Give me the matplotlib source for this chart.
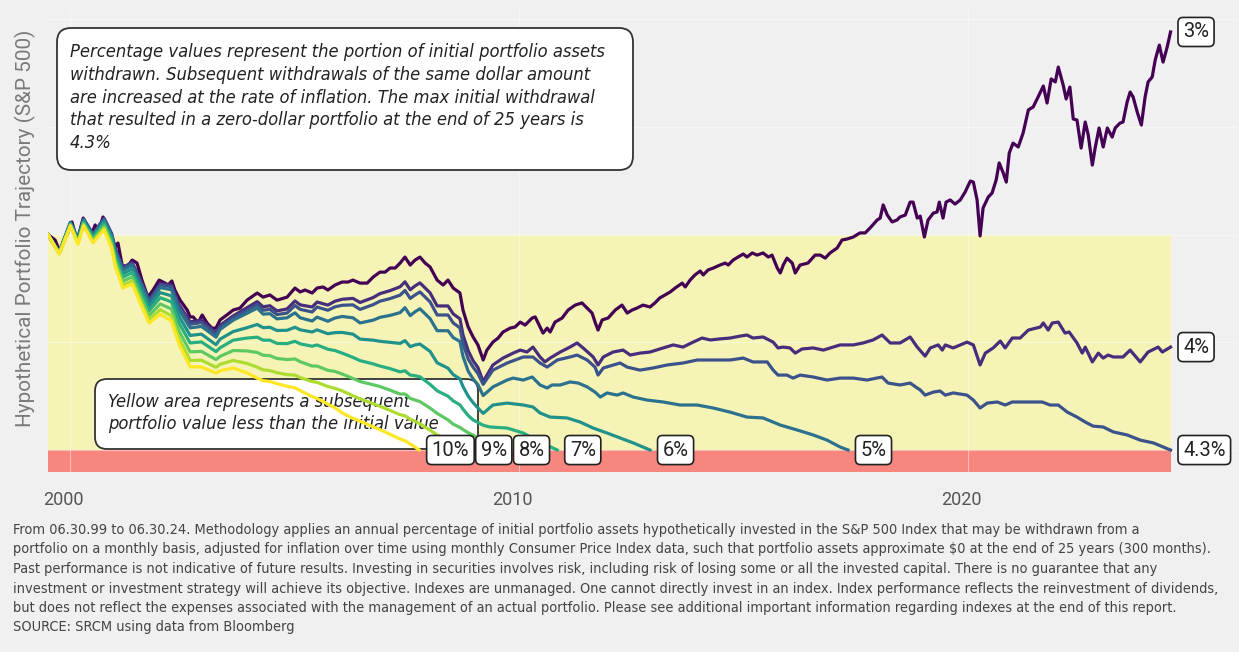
import numpy as np
import matplotlib
matplotlib.use("Agg")
import matplotlib.pyplot as plt
from matplotlib import font_manager
from matplotlib.patches import FancyBboxPatch
from matplotlib.transforms import IdentityTransform, ScaledTranslation

# ---- data (months since 06.1999, portfolio value as % of initial) ----
labels = ["3%", "4%", "4.3%", "5%", "6%", "7%", "8%", "9%", "10%"]

early_months = [0, 3, 6, 8, 9.5, 12, 15, 17, 18, 20, 22.5, 25, 27, 30, 33, 35, 38, 41]
mid_months = [44.9, 46.0, 49.5, 53.2, 55.9, 57.5, 59.3, 61.2, 63.9, 66.0, 67.4, 70.6, 71.9, 74.8, 76.7, 78.6, 81.5, 83.4,
              86.9, 88.7, 91.4, 94.1, 95.4, 96.8, 98.1, 99.4, 102.1, 104.0, 106.9, 108.3, 110.1, 110.9, 112.3, 113.6, 114.9, 116.3]

m3 = [0, 1.9, 3.2, 4.0, 5.3, 6.4, 7.2, 8.0, 9.4, 10.7, 11.8, 12.6, 13.4, 14.7, 15.8, 16.6, 17.9, 18.7, 19.8, 21.1,
      22.5, 23.8, 25.1, 26.7, 28.1, 29.7, 31.3, 32.1, 33.1, 33.9, 35.3, 37.2, 38.0, 38.8, 40.1, 41.2, 42.5, 43.8, 44.9, 46.0,
      47.8, 49.5, 51.3, 53.2, 55.9, 57.5, 59.3, 61.2, 63.9, 66.0, 67.4, 68.7, 70.6, 71.9, 73.5, 74.8, 76.7, 78.6, 80.2, 81.5,
      83.4, 85.3, 86.9, 88.7, 90.1, 91.4, 92.8, 94.1, 95.4, 96.8, 98.1, 99.4, 100.8, 102.1, 104.0, 105.6, 106.9, 108.3, 110.1, 110.9,
      112.3, 113.6, 114.9, 116.3, 117.3, 118.9, 120.3, 121.6, 123.5, 124.8, 126.2, 127.5, 129.4, 130.2, 131.5, 132.3, 133.4, 134.2, 135.5, 137.4,
      139.0, 140.9, 142.7, 144.1, 145.4, 146.2, 147.0, 148.1, 149.7, 151.6, 153.4, 154.8, 156.1, 157.4, 159.0, 160.9, 162.2, 163.5, 164.9, 166.3,
      167.6, 169.5, 170.3, 171.6, 172.9, 174.3, 175.1, 176.4, 177.8, 179.6, 181.0, 181.8, 183.1, 184.4, 185.8, 186.8, 188.2, 189.5, 191.1, 192.5,
      193.5, 194.9, 195.7, 196.5, 197.5, 198.9, 199.7, 201.0, 203.1, 205.0, 206.4, 207.7, 209.0, 210.9, 212.2, 213.6, 215.2, 217.0, 218.4, 219.7,
      221.6, 222.4, 223.2, 224.3, 225.6, 226.9, 227.7, 229.1, 230.4, 231.2, 232.3, 233.1, 234.2, 235.2, 236.6, 237.6, 238.2, 239.2, 240.0, 241.1,
      242.4, 243.8, 245.1, 246.5, 247.3, 248.3, 249.1, 249.9, 251.3, 252.3, 253.4, 254.2, 255.3, 256.1, 256.9, 257.9, 259.3, 260.6, 262.0, 263.3,
      264.6, 266.0, 267.0, 268.1, 269.2, 270.0, 271.3, 272.1, 273.1, 274.0, 275.0, 276.1, 277.2, 278.0, 279.1, 279.9, 280.9, 282.0, 283.1, 284.4,
      285.2, 286.5, 287.3, 288.4, 289.2, 290.0, 291.1, 292.2, 293.2, 294.0, 295.1, 295.9, 297.0, 298.0, 299.1, 300]
v3 = [100, 97.5, 91.9, 96.1, 100.8, 105.9, 100.8, 98.4, 107.7, 103.5, 100.8, 104.5, 100.8, 108.2, 103.1, 101.2, 94.3, 96.1, 85.9, 84.9,
      88.2, 86.8, 78.9, 71.0, 74.3, 78.9, 77.5, 76.6, 78.5, 74.3, 69.6, 65.0, 61.8, 61.8, 59.0, 62.7, 59.0, 56.6, 56.6, 60.4,
      62.7, 65.0, 65.9, 69.6, 72.9, 71.0, 72.0, 69.6, 71.0, 75.2, 73.4, 74.3, 72.9, 75.2, 75.7, 74.3, 76.6, 78.0, 78.0, 78.9,
      77.5, 77.5, 80.3, 82.6, 82.6, 84.5, 84.5, 86.8, 89.6, 85.9, 88.2, 89.6, 86.8, 85.0, 78.9, 76.6, 78.9, 75.2, 72.9, 65.0,
      57.1, 52.5, 48.8, 41.8, 46.4, 50.1, 52.0, 54.8, 56.6, 57.1, 59.4, 58.0, 61.3, 61.8, 57.1, 54.3, 56.6, 54.8, 59.4, 61.3,
      65.0, 67.3, 68.3, 65.9, 63.6, 59.4, 55.7, 60.4, 61.3, 65.0, 67.3, 63.6, 65.0, 65.9, 67.3, 66.4, 68.3, 70.6, 72.0, 73.4,
      75.2, 77.5, 75.7, 78.9, 81.3, 83.1, 81.3, 83.6, 84.5, 85.9, 86.8, 85.9, 88.2, 89.6, 91.0, 89.6, 91.5, 90.5, 91.5, 89.6,
      90.5, 84.5, 82.2, 85.9, 89.1, 86.8, 82.2, 85.9, 86.8, 90.5, 90.5, 89.1, 91.5, 93.8, 97.5, 98.0, 98.9, 100.8, 100.8, 103.1,
      106.8, 107.7, 113.8, 109.1, 105.9, 106.8, 108.2, 109.1, 115.1, 115.1, 107.7, 108.6, 98.9, 106.8, 110.0, 110.5, 115.1, 107.7, 115.1, 116.1,
      114.2, 116.1, 119.8, 124.9, 124.4, 116.1, 99.4, 112.4, 117.5, 119.3, 125.4, 133.3, 128.6, 124.4, 137.9, 142.5, 140.7, 147.2, 157.9, 159.3,
      163.9, 169.0, 161.1, 172.3, 170.9, 177.8, 169.5, 163.0, 168.5, 153.7, 153.2, 140.2, 152.3, 146.3, 132.3, 140.7, 149.5, 140.7, 149.5, 145.3,
      149.5, 151.8, 152.3, 161.6, 166.2, 163.9, 156.9, 150.9, 163.9, 170.9, 173.2, 181.1, 188.0, 180.1, 187.1, 194.1]

m4 = early_months + mid_months + [
    118.9, 121.6, 124.3, 126.2, 128, 129.6, 131.5, 132.8, 134.2, 136.9, 139.5, 141.4, 143, 145.7, 147, 148.4, 151, 153.7, 155.6,
    158.2, 160.9, 164.4, 167.1, 169.7, 172.4, 174.8, 177, 179.6, 182.3, 185, 186.8, 188.4, 191.1, 193.8, 195.1, 196.5, 198.3, 199.7,
    201.5, 204.5, 207.2, 209.8, 211.7, 215.2, 217.8, 220.5, 222.9, 225.1, 227.7, 230.4, 232.3, 234.4, 235.8, 237.9, 239, 239.8, 241.9,
    245.6, 247.3, 249.1, 250.5, 252.6, 254.5, 255.8, 257.7, 259.8, 262, 265.2, 266, 267.3, 268.4, 270, 271.8, 272.9, 275, 276.4, 277.2,
    279.1, 280.7, 282, 283.3, 284.7, 287.3, 289.2, 291.9, 294, 296.7, 297.8, 300]
v4 = [100, 91.8, 105.7, 98.1, 107.3, 100.3, 107.6, 100.5, 93.4, 84.8, 87.1, 77.7, 69.8, 77.3, 76.6, 67.6, 59.5, 60.3] + \
     [54.5, 57.9, 62.3, 66.1, 68.9, 66.5, 67.0, 64.6, 65.5, 69.2, 67.4, 66.4, 68.7, 67.3, 69.1, 70.0, 70.4, 68.5,
      70.8, 72.6, 74.0, 75.8, 78.1, 74.4, 76.2, 77.6, 73.0, 66.9, 66.9, 63.2, 60.9, 53.5, 46.1, 41.5, 38.3, 31.8] + \
     [39.5, 42.7, 45.0, 46.4, 45.5, 47.8, 43.2, 40.9, 42.7, 45.5, 47.8, 49.7, 47.4, 43.2, 39.5, 43.2, 45.5, 46.4, 44.1,
      45.0, 45.5, 47.4, 48.8, 47.8, 50.1, 52.0, 51.1, 51.6, 52.0, 52.9, 53.4, 52.0, 52.5, 50.1, 47.4, 47.8, 47.4, 45.0,
      46.9, 47.4, 46.4, 47.8, 48.8, 48.8, 49.7, 51.1, 53.4, 49.7, 49.7, 52.5, 47.8, 43.6, 47.4, 48.8, 46.4, 48.8, 47.4,
      50.1, 48.8, 39.5, 45.0, 47.4, 50.6, 47.4, 52.0, 52.0, 55.7, 57.1, 59.0, 55.7, 59.0, 59.4, 54.3, 54.8, 49.7, 45.0, 47.8,
      40.9, 45.0, 42.7, 44.1, 43.2, 43.2, 46.4, 40.9, 45.5, 47.8, 45.5, 47.8]

m43 = early_months + mid_months + [
    118.9, 122.7, 127, 129.6, 131.5, 133.4, 136.1, 139.5, 141.4, 144.1, 146.2, 147, 148.4, 152.9, 154.8, 158.2, 161.7, 165.5,
    169.7, 173.5, 177.8, 182.3, 185.8, 188.4, 192.2, 193.8, 195.1, 197.5, 199.1, 201, 204.5, 208.2, 211.7, 215.2, 218.9, 222.9,
    224.5, 227.7, 230.4, 232.3, 233.1, 234.4, 236.6, 238.4, 239.8, 241.9, 245.6, 247.3, 249.1, 251, 253.7, 255.8, 257.7, 261.7,
    265.7, 267.8, 270, 272.4, 275, 277.2, 279.3, 282, 284.7, 288.4, 291.9, 295.4, 300]
v43 = [100, 91.8, 105.6, 98.0, 107.2, 100.1, 107.3, 100.1, 92.9, 84.3, 86.6, 77.1, 69.2, 76.6, 75.8, 66.6, 58.4, 59.2] + \
      [53.8, 57.0, 61.4, 64.9, 67.5, 64.9, 65.3, 62.9, 63.6, 67.1, 65.3, 64.1, 66.4, 64.9, 66.5, 67.2, 67.4, 65.3,
       67.5, 69.1, 70.3, 71.9, 74.1, 70.4, 72.0, 73.4, 68.8, 62.7, 62.7, 59.0, 56.7, 49.5, 42.2, 38.5, 35.5, 30.5] + \
      [37.1, 40.4, 43.2, 43.2, 40.4, 38.5, 41.8, 43.2, 44.1, 41.8, 38.5, 34.8, 38.1, 40.4, 38.5, 37.1, 38.1, 39.5,
       40.4, 41.8, 41.8, 41.8, 42.7, 40.9, 40.9, 37.1, 34.8, 34.8, 33.4, 34.8, 33.9, 32.5, 33.4, 33.4, 32.5, 33.9,
       31.1, 30.2, 31.1, 28.8, 27.9, 25.5, 26.9, 27.4, 25.5, 26.5, 25.5, 23.2, 19.5, 21.8, 22.3, 20.9, 22.3, 22.3,
       22.3, 20.9, 20.9, 17.6, 15.3, 13.0, 11.1, 10.7, 8.4, 7.0, 4.6, 3.3, 0]

m5 = early_months + mid_months + [
    118.9, 122.7, 124.3, 127, 129.4, 131.5, 133.4, 134.7, 136.9, 139.5, 141.7, 144.1, 146.2, 147.6, 149.4, 152.1, 153.7, 156.4,
    160.1, 164.4, 168.9, 173.5, 177.8, 182.3, 186.8, 191.1, 195.7, 200.2, 204.5, 208.2, 211.7, 213.8]
v5 = [100, 91.7, 105.5, 97.8, 106.9, 99.8, 106.9, 99.6, 92.3, 83.5, 85.8, 76.2, 68.3, 75.4, 74.4, 65.1, 56.7, 57.4] + \
     [52.4, 56.0, 60.3, 63.5, 65.9, 63.1, 63.3, 60.9, 61.4, 63.7, 61.4, 59.9, 61.7, 59.8, 61.3, 62.0, 61.4, 59.0,
      60.3, 61.6, 62.5, 63.8, 66.1, 62.4, 64.2, 65.6, 61.0, 55.4, 55.4, 52.2, 50.4, 43.5, 36.6, 33.0, 30.3, 25.3] + \
     [29.3, 32.5, 33.4, 32.5, 33.9, 30.2, 28.8, 30.2, 30.2, 31.6, 31.1, 29.3, 26.9, 24.6, 26.5, 25.5, 26.5, 24.6,
      23.2, 22.3, 20.9, 20.9, 19.5, 17.6, 15.3, 14.9, 11.6, 9.3, 7.0, 4.6, 1.4, 0]

m6 = early_months + mid_months + [118.9, 122.7, 127, 129.6, 131.5, 134.2, 138.7, 142.2, 145.7, 149.4, 152.9, 156.4, 160.9]
v6 = [100, 91.6, 105.2, 97.4, 106.3, 99.1, 106.0, 98.5, 90.9, 81.9, 84.1, 74.4, 66.5, 73.1, 71.6, 62.1, 53.2, 53.8] + \
     [48.9, 51.5, 55.0, 56.8, 58.3, 56.8, 57.0, 55.5, 55.6, 57.0, 55.8, 54.8, 55.8, 54.0, 54.5, 54.6, 53.8, 51.5,
      51.0, 50.5, 50.0, 49.5, 50.8, 48.0, 48.8, 49.2, 45.8, 40.5, 38.0, 35.0, 33.0, 29.5, 25.0, 22.0, 19.5, 17.0] + \
     [20.9, 21.8, 20.9, 20.0, 17.2, 15.3, 14.9, 13.0, 10.2, 7.9, 5.6, 3.3, 0]

m7 = early_months + mid_months + [118.1, 122.7, 127, 131.5, 136.1]
v7 = [100, 91.4, 104.9, 96.9, 105.8, 98.4, 105.1, 97.4, 89.5, 80.3, 82.4, 72.6, 64.7, 70.7, 68.8, 59.0, 49.7, 50.2] + \
     [45.7, 47.5, 51.0, 52.0, 52.4, 51.0, 51.0, 49.5, 49.4, 50.5, 49.3, 48.2, 48.8, 46.8, 46.2, 45.0, 43.0, 41.5,
      40.0, 39.0, 37.8, 36.3, 36.8, 34.8, 34.5, 34.0, 30.5, 27.5, 25.0, 22.8, 21.0, 19.0, 16.0, 14.0, 12.8, 11.5] + \
     [10.7, 10.2, 7.9, 3.7, 0]

m8 = early_months + mid_months[:33] + [114.7, 118, 122.4]
v8 = [100, 91.3, 104.6, 96.4, 105.1, 97.6, 104.0, 96.0, 87.8, 78.4, 80.4, 70.4, 62.5, 67.8, 65.5, 55.3, 45.6, 45.8] + \
     [42.0, 43.5, 46.2, 46.0, 45.3, 44.0, 43.8, 42.5, 42.0, 42.3, 41.0, 39.0, 39.0, 37.0, 36.5, 35.3, 33.2, 31.8,
      30.3, 29.5, 27.8, 26.0, 26.0, 24.0, 23.2, 22.5, 19.5, 17.0, 14.0, 12.0, 10.5, 9.5, 8.0] + \
     [6.0, 3.5, 0]

m9 = early_months + mid_months[:31] + [112.3]
v9 = [100, 91.1, 104.2, 96.0, 104.5, 96.8, 103.0, 94.8, 86.2, 76.6, 78.5, 68.4, 60.5, 65.2, 62.3, 51.9, 41.6, 41.7] + \
     [38.4, 39.8, 41.6, 40.2, 38.5, 37.2, 36.9, 35.9, 35.0, 34.8, 33.6, 31.8, 31.4, 29.5, 28.6, 27.5, 25.2, 23.8,
      21.5, 20.3, 18.4, 16.4, 15.9, 14.3, 13.3, 12.2, 9.2, 7.0, 4.5, 3.2, 1.6] + \
     [0]

m10 = early_months + mid_months[:25] + [99.2]
v10 = [100, 91.0, 104.0, 95.6, 104.0, 96.2, 102.2, 93.8, 85.0, 75.2, 77.1, 66.8, 58.9, 63.1, 59.9, 49.2, 38.6, 38.6] + \
      [35.7, 36.8, 38.1, 35.8, 33.4, 32.2, 31.8, 30.8, 29.6, 28.9, 27.6, 24.8, 24.0, 21.3, 19.6, 17.3, 14.7, 13.4,
       10.8, 9.5, 7.3, 5.1, 4.3, 2.8, 1.4] + \
      [0]

series = [(m3, v3), (m4, v4), (m43, v43), (m5, v5), (m6, v6), (m7, v7), (m8, v8), (m9, v9), (m10, v10)]

top_note = ["Percentage values represent the portion of initial portfolio assets",
            "withdrawn. Subsequent withdrawals of the same dollar amount",
            "are increased at the rate of inflation. The max initial withdrawal",
            "that resulted in a zero-dollar portfolio at the end of 25 years is",
            "4.3%"]
low_note = ["Yellow area represents a subsequent",
            "portfolio value less than the initial value"]
footnote = ["From 06.30.99 to 06.30.24. Methodology applies an annual percentage of initial portfolio assets hypothetically invested in the S&P 500 Index that may be withdrawn from a",
            "portfolio on a monthly basis, adjusted for inflation over time using monthly Consumer Price Index data, such that portfolio assets approximate \\$0 at the end of 25 years (300 months).",
            "Past performance is not indicative of future results. Investing in securities involves risk, including risk of losing some or all the invested capital. There is no guarantee that any",
            "investment or investment strategy will achieve its objective. Indexes are unmanaged. One cannot directly invest in an index. Index performance reflects the reinvestment of dividends,",
            "but does not reflect the expenses associated with the management of an actual portfolio. Please see additional important information regarding indexes at the end of this report.",
            "SOURCE: SRCM using data from Bloomberg"]

# ---- style ----
BG = "#f0f0f0"
YELLOW = "#f5f4b6"
RED = "#f7867f"
START = 1999.5
W, H = 1239, 652

fonts = font_manager.fontManager.ttflist
if any(f.name == "DejaVu Sans" and f.stretch == "condensed" for f in fonts):
    NARROW = dict(family="DejaVu Sans", stretch="condensed")
else:
    NARROW = dict(family="Roboto")
REG = "Roboto"


def to_year(months):
    return START + np.asarray(months, dtype=float) / 12


fig = plt.figure(figsize=(W / 100, H / 100), dpi=100, facecolor=BG)
ax = fig.add_axes([48 / W, 1 - 472 / H, 1189 / W, 462 / H])
ax.set_facecolor(BG)
renderer = fig.canvas.get_renderer()


def fit(t, target, vertical=False):
    bb = t.get_window_extent(renderer)
    size = bb.height if vertical else bb.width
    t.set_fontsize(t.get_fontsize() * target / size)
    return t.get_fontsize()


ax.fill_between([START, 2024.5], 0, 100, color=YELLOW, lw=0, zorder=1)
ax.fill_between([START, 2024.5], -10.2, 0, color=RED, lw=0, zorder=1)

colors = plt.cm.viridis(np.linspace(0, 1, len(series)))
for (m, v), c, lab in zip(series, colors, labels):
    ax.plot(to_year(m), v, color=c, lw=2.3, zorder=3, solid_joinstyle="round")
    ax.annotate(lab, (to_year(m)[-1], v[-1]), xytext=(9, 0), textcoords="offset points",
                ha="left", va="center", fontsize=14.5, family=REG, color="#222",
                bbox=dict(boxstyle="round,pad=0.25,rounding_size=0.25", fc="white", ec="#222", lw=1.2),
                zorder=6)

ax.set_xlim(START, 2025.98)
ax.set_ylim(-10.2, 204.3)
ax.set_xticks([2000, 2010, 2020])
ax.set_yticks([0, 50, 100, 150, 200])
ax.tick_params(axis="y", left=False, labelleft=False)
ax.tick_params(axis="x", length=0, pad=14, labelsize=13, labelcolor="#555")
shift = ScaledTranslation(-7 / 100, 0, fig.dpi_scale_trans)
for t in ax.get_xticklabels():
    t.set_family(REG)
    t.set_transform(t.get_transform() + shift)
ax.set_axisbelow("line")
ax.grid(color="white", lw=0.8, alpha=0.45)
for s in ax.spines.values():
    s.set_visible(False)

# annotation boxes (pixel positions)
ident = IdentityTransform()
ax.add_patch(FancyBboxPatch((57, H - 170), 576, 142, boxstyle="round,pad=0,rounding_size=14",
                            transform=ident, fc="white", ec="#333", lw=1.3, zorder=4, clip_on=False))
ax.add_patch(FancyBboxPatch((95, H - 449), 383, 70, boxstyle="round,pad=0,rounding_size=12",
                            transform=ident, fc="white", ec="#333", lw=1.3, zorder=2.5, clip_on=False))

tops = [ax.text(70, H - (52 + 22.8 * i), s, transform=ident, va="center", ha="left", style="italic",
                fontsize=13, color="#222", zorder=4.5, **NARROW) for i, s in enumerate(top_note)]
fs = fit(tops[0], 535)
for t in tops:
    t.set_fontsize(fs)

lows = [ax.text(108, H - (402 + 22 * i), s, transform=ident, va="center", ha="left", style="italic",
                fontsize=13, color="#222", zorder=2.6, **NARROW) for i, s in enumerate(low_note)]
fs = fit(lows[0], 302)
for t in lows:
    t.set_fontsize(fs)

feet = [fig.text(13 / W, 1 - (530 + 19.5 * i) / H, s, va="center", ha="left",
                 fontsize=10, color="#444", **NARROW) for i, s in enumerate(footnote)]
fs = fit(feet[1], 1198)
for t in feet:
    t.set_fontsize(fs)

yl = fig.text(25 / W, 1 - 228 / H, "Hypothetical Portfolio Trajectory (S&P 500)", rotation=90,
              ha="center", va="center", family=REG, fontsize=13, color="#7a7a7a")
fit(yl, 395, vertical=True)

fig.savefig("out.png", dpi=100, facecolor=BG)
